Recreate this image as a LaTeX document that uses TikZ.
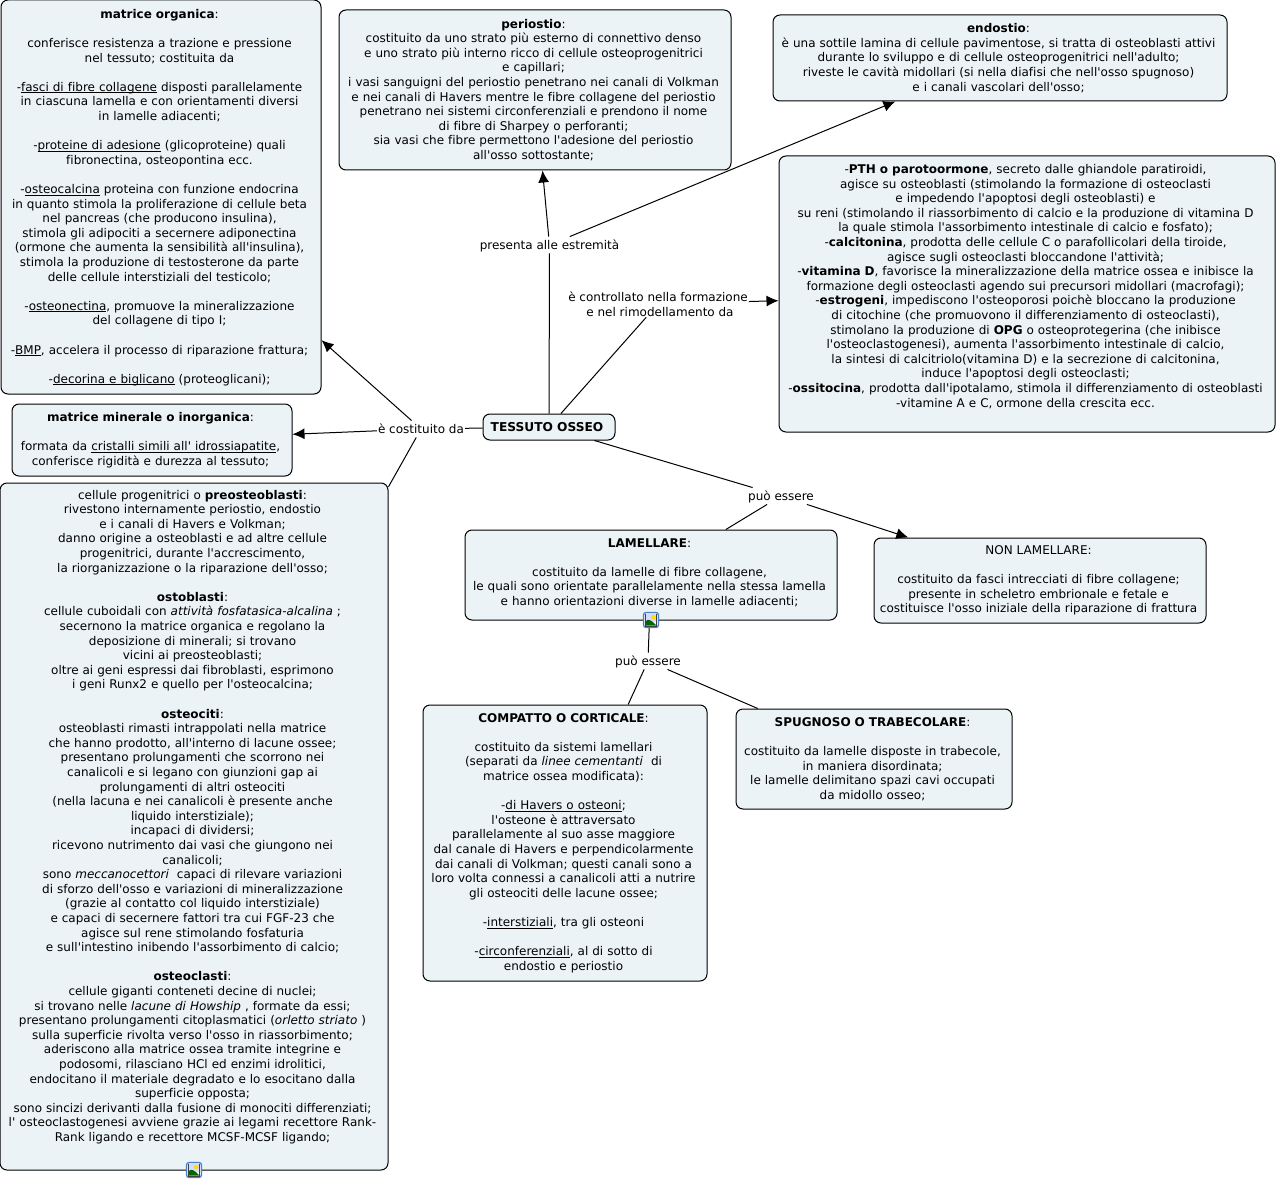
\documentclass[tikz,border=0pt]{standalone}
\usepackage{fontspec}
\setmainfont[Ligatures={TeXOff,NoCommon}]{DejaVu Sans}
\usetikzlibrary{arrows.meta}
\definecolor{boxfill}{RGB}{235,243,246}
\definecolor{iconblue}{RGB}{70,130,205}
\newcommand{\lineunder}[1]{\setbox0=\hbox{#1}\rlap{\rule[-2pt]{\wd0}{0.8pt}}\box0\relax}
\tikzset{
  concept/.style={draw=black, fill=boxfill, rounded corners=7pt, line width=1pt, align=center,
    inner sep=0pt, font=\fontsize{12}{14.6}\selectfont,
    execute at begin node={\leftskip=0pt plus 1fil\rightskip=3pt plus 1fil\parfillskip=0pt\relax}},
  linkword/.style={inner xsep=1pt, inner ysep=0pt, text height=12.5pt, text depth=4pt, align=center,
    font=\fontsize{12}{14.6}\selectfont},
  multiword/.style={inner sep=1pt, align=center, font=\fontsize{12}{14.6}\selectfont},
  plainlink/.style={draw=black, line width=1pt},
  arrowlink/.style={plainlink, -{Latex[length=12pt,width=11pt]}},
  pics/photoicon/.style={code={
    \draw[draw=iconblue, fill=blue!8, rounded corners=2.5pt, line width=1.3pt] (-7.5,-7.5) rectangle (7.5,7.5);
    \draw[draw=black!75, fill=white, line width=.7pt] (-5.5,-6) rectangle (5.5,6);
    \fill[blue!15] (-5.2,-5.7) rectangle (5.2,2);
    \fill[yellow!80!orange] (2.2,-3) circle (2.3);
    \fill[green!40!black] (-5.2,5.7) -- (-5.2,1) .. controls (-2.5,-1.5) and (0,0) .. (5.2,5.2) -- (5.2,5.7) -- cycle;
  }}
}
\begin{document}
\begin{tikzpicture}[x=1pt,y=-1pt]
    \useasboundingbox (0,0) rectangle (1277,1182);

    % main concept
    \node[concept, minimum width=132pt, minimum height=26pt, font=\fontsize{12.2}{14.6}\bfseries] (tessuto) at (549,427) {TESSUTO OSSEO\hspace{4pt}};

    % left column
    \node[concept, text width=320pt, minimum height=394pt] (organica) at (161,197) {~\\[-4.6pt]\textbf{matrice organica}:\\~\\
      conferisce resistenza a trazione e pressione\\
      nel tessuto; costituita da\\~\\
      -\lineunder{fasci di fibre collagene} disposti parallelamente\\
      in ciascuna lamella e con orientamenti diversi\\
      in lamelle adiacenti;\\~\\
      -\lineunder{proteine di adesione} (glicoproteine) quali\\
      fibronectina, osteopontina ecc.\\~\\
      -\lineunder{osteocalcina} proteina con funzione endocrina\\
      in quanto stimola la proliferazione di cellule beta\\
      nel pancreas (che producono insulina),\\
      stimola gli adipociti a secernere adiponectina\\
      (ormone che aumenta la sensibilità all'insulina),\\
      stimola la produzione di testosterone da parte\\
      delle cellule interstiziali del testicolo;\\~\\
      -\lineunder{osteonectina}, promuove la mineralizzazione\\
      del collagene di tipo I;\\~\\
      -\lineunder{BMP}, accelera il processo di riparazione frattura;\\~\\
      -\lineunder{decorina e biglicano} (proteoglicani);};
    \node[concept, text width=280pt, minimum height=72pt] (minerale) at (152,440) {\textbf{matrice minerale o inorganica}:\\~\\
      formata da \lineunder{cristalli simili all' idrossiapatite},\\
      conferisce rigidità e durezza al tessuto;};
    \node[concept, text width=388pt, minimum height=687pt] (cellule) at (194,826.5) {cellule progenitrici o \textbf{preosteoblasti}:\\
      rivestono internamente periostio, endostio\\
      e i canali di Havers e Volkman;\\
      danno origine a osteoblasti e ad altre cellule\\
      progenitrici, durante l'accrescimento,\\
      la riorganizzazione o la riparazione dell'osso;\\~\\
      \textbf{ostoblasti}:\\
      cellule cuboidali con \textit{attività fosfatasica-alcalina} ;\\
      secernono la matrice organica e regolano la\\
      deposizione di minerali; si trovano\\
      vicini ai preosteoblasti;\\
      oltre ai geni espressi dai fibroblasti, esprimono\\
      i geni Runx2 e quello per l'osteocalcina;\\~\\
      \textbf{osteociti}:\\
      osteoblasti rimasti intrappolati nella matrice\\
      che hanno prodotto, all'interno di lacune ossee;\\
      presentano prolungamenti che scorrono nei\\
      canalicoli e si legano con giunzioni gap ai\\
      prolungamenti di altri osteociti\\
      (nella lacuna e nei canalicoli è presente anche\\
      liquido interstiziale);\\
      incapaci di dividersi;\\
      ricevono nutrimento dai vasi che giungono nei\\
      canalicoli;\\
      sono \textit{meccanocettori}\ \ capaci di rilevare variazioni\\
      di sforzo dell'osso e variazioni di mineralizzazione\\
      (grazie al contatto col liquido interstiziale)\\
      e capaci di secernere fattori tra cui FGF-23 che\\
      agisce sul rene stimolando fosfaturia\\
      e sull'intestino inibendo l'assorbimento di calcio;\\~\\
      \textbf{osteoclasti}:\\
      cellule giganti conteneti decine di nuclei;\\
      si trovano nelle \textit{lacune di Howship} , formate da essi;\\
      presentano prolungamenti citoplasmatici (\textit{orletto striato} )\\
      sulla superficie rivolta verso l'osso in riassorbimento;\\
      aderiscono alla matrice ossea tramite integrine e\\
      podosomi, rilasciano HCl ed enzimi idrolitici,\\
      endocitano il materiale degradato e lo esocitano dalla\\
      superficie opposta;\\
      sono sincizi derivanti dalla fusione di monociti differenziati;\\
      l' osteoclastogenesi avviene grazie ai legami recettore Rank-\\
      Rank ligando e recettore MCSF-MCSF ligando;\\[7pt]~};

    % top row
    \node[concept, text width=392pt, minimum height=160pt] (periostio) at (535,90) {\textbf{periostio}:\\
      costituito da uno strato più esterno di connettivo denso\\
      e uno strato più interno ricco di cellule osteoprogenitrici\\
      e capillari;\\
      i vasi sanguigni del periostio penetrano nei canali di Volkman\\
      e nei canali di Havers mentre le fibre collagene del periostio\\
      penetrano nei sistemi circonferenziali e prendono il nome\\
      di fibre di Sharpey o perforanti;\\
      sia vasi che fibre permettono l'adesione del periostio\\
      all'osso sottostante;};
    \node[concept, text width=454pt, minimum height=86pt] (endostio) at (1000,58) {\textbf{endostio}:\\
      è una sottile lamina di cellule pavimentose, si tratta di osteoblasti attivi\\
      durante lo sviluppo e di cellule osteoprogenitrici nell'adulto;\\
      riveste le cavità midollari (si nella diafisi che nell'osso spugnoso)\\
      e i canali vascolari dell'osso;};
    \node[concept, text width=496pt, minimum height=276pt] (ormoni) at (1027,294) {-\textbf{PTH o parotoormone}, secreto dalle ghiandole paratiroidi,\\
      agisce su osteoblasti (stimolando la formazione di osteoclasti\\
      e impedendo l'apoptosi degli osteoblasti) e\\
      su reni (stimolando il riassorbimento di calcio e la produzione di vitamina D\\
      la quale stimola l'assorbimento intestinale di calcio e fosfato);\\
      -\textbf{calcitonina}, prodotta delle cellule C o parafollicolari della tiroide,\\
      agisce sugli osteoclasti bloccandone l'attività;\\
      -\textbf{vitamina D}, favorisce la mineralizzazione della matrice ossea e inibisce la\\
      formazione degli osteoclasti agendo sui precursori midollari (macrofagi);\\
      -\textbf{estrogeni}, impediscono l'osteoporosi poichè bloccano la produzione\\
      di citochine (che promuovono il differenziamento di osteoclasti),\\
      stimolano la produzione di \textbf{OPG} o osteoprotegerina (che inibisce\\
      l'osteoclastogenesi), aumenta l'assorbimento intestinale di calcio,\\
      la sintesi di calcitriolo(vitamina D) e la secrezione di calcitonina,\\
      induce l'apoptosi degli osteoclasti;\\
      -\textbf{ossitocina}, prodotta dall'ipotalamo, stimola il differenziamento di osteoblasti\\
      -vitamine A e C, ormone della crescita ecc.\\[2pt]~};

    % tipi di tessuto
    \node[concept, text width=372pt, minimum height=90pt] (lamellare) at (651,575) {\textbf{LAMELLARE}:\\~\\
      costituito da lamelle di fibre collagene,\\
      le quali sono orientate parallelamente nella stessa lamella\\
      e hanno orientazioni diverse in lamelle adiacenti;\\[-8.6pt]~};
    \node[concept, text width=332pt, minimum height=85pt] (nonlamellare) at (1040,580.5) {NON LAMELLARE:\\~\\
      costituito da fasci intrecciati di fibre collagene;\\
      presente in scheletro embrionale e fetale e\\
      costituisce l'osso iniziale della riparazione di frattura};
    \node[concept, text width=284pt, minimum height=276pt] (compatto) at (565,843) {\textbf{COMPATTO O CORTICALE}:\\~\\
      costituito da sistemi lamellari\\
      (separati da \textit{linee cementanti}\ \ di\\
      matrice ossea modificata):\\~\\
      -\lineunder{di Havers o osteoni};\\
      l'osteone è attraversato\\
      parallelamente al suo asse maggiore\\
      dal canale di Havers e perpendicolarmente\\
      dai canali di Volkman; questi canali sono a\\
      loro volta connessi a canalicoli atti a nutrire\\
      gli osteociti delle lacune ossee;\\~\\
      -\lineunder{interstiziali}, tra gli osteoni\\~\\
      -\lineunder{circonferenziali}, al di sotto di\\
      endostio e periostio};
    \node[concept, text width=276pt, minimum height=100pt] (spugnoso) at (874,759) {\textbf{SPUGNOSO O TRABECOLARE}:\\~\\
      costituito da lamelle disposte in trabecole,\\
      in maniera disordinata;\\
      le lamelle delimitano spazi cavi occupati\\
      da midollo osseo;};

    % linking phrases
    \node[linkword] (estremita) at (549.5,245) {presenta alle estremità};
    \node[multiword] (controllo) at (658,304) {è controllato nella formazione\\\hspace*{4pt}e nel rimodellamento da};
    \node[linkword] (costituito) at (421,429) {è costituito da};
    \node[linkword] (essere) at (781,496) {può essere};
    \node[linkword] (essere2) at (648,661) {può essere};

    \draw[plainlink] (tessuto) -- (estremita);
    \draw[arrowlink] (estremita) -- (periostio);
    \draw[arrowlink] (estremita) -- (endostio);
    \draw[plainlink] (tessuto) -- (controllo);
    \draw[arrowlink] (controllo) -- (ormoni);
    \draw[plainlink] (tessuto) -- (costituito);
    \draw[arrowlink] (costituito) -- (organica);
    \draw[arrowlink] (costituito) -- (minerale);
    \draw[plainlink] (costituito) -- (cellule);
    \draw[plainlink] (tessuto) -- (essere);
    \draw[plainlink] (essere) -- (lamellare);
    \draw[arrowlink] (essere) -- (nonlamellare);
    \draw[plainlink] (lamellare) -- (essere2);
    \draw[plainlink] (essere2) -- (compatto);
    \draw[plainlink] (essere2) -- (spugnoso);

    % image icons
    \pic at (651,620) {photoicon};
    \pic at (194,1170) {photoicon};
\end{tikzpicture}
\end{document}
